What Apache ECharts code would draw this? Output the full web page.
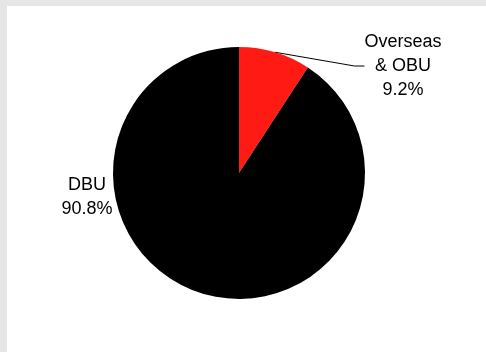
<!DOCTYPE html>
<html>
<head>
<meta charset="utf-8">
<script src="https://cdn.jsdelivr.net/npm/echarts@6/dist/echarts.min.js"></script>
<style>
  html, body { margin: 0; padding: 0; background: #e6e6e6; }
  #chart { width: 486px; height: 352px; }
</style>
</head>
<body>
<div id="chart"></div>
<script>
// Share of business by unit (percent)
const segmentNames = ['Overseas\n& OBU', 'DBU'];
const segmentShares = [9.2, 90.8];
const segmentColors = ['#ff1a14', '#000000'];

const chart = echarts.init(document.getElementById('chart'));

const pieData = segmentNames.map((name, i) => ({
  name: name,
  value: segmentShares[i],
  itemStyle: { color: segmentColors[i] },
  labelLine: { show: i === 0 }
}));

chart.setOption({
  backgroundColor: '#e6e6e6',
  animation: false,
  graphic: [{
    type: 'rect',
    shape: { x: 7, y: 6, width: 479, height: 346 },
    style: { fill: '#ffffff' },
    z: -10
  }],
  series: [{
    type: 'pie',
    center: [239, 173],
    radius: [0, 126],
    startAngle: 90,
    clockwise: true,
    percentPrecision: 1,
    data: pieData,
    label: {
      show: true,
      formatter: '{b}\n{d}%',
      fontFamily: 'Liberation Sans, Arial, sans-serif',
      fontSize: 18,
      lineHeight: 24,
      color: '#000000',
      align: 'center'
    },
    labelLine: {
      show: true,
      length: 10,
      length2: 10,
      lineStyle: { color: '#000000', width: 1 }
    },
    labelLayout: function (params) {
      if (params.dataIndex === 0) {
        return { x: 403, y: 66, align: 'center', verticalAlign: 'middle' };
      }
      return { x: 87, y: 197, align: 'center', verticalAlign: 'middle' };
    },
    emphasis: { disabled: true }
  }]
});
</script>
</body>
</html>
